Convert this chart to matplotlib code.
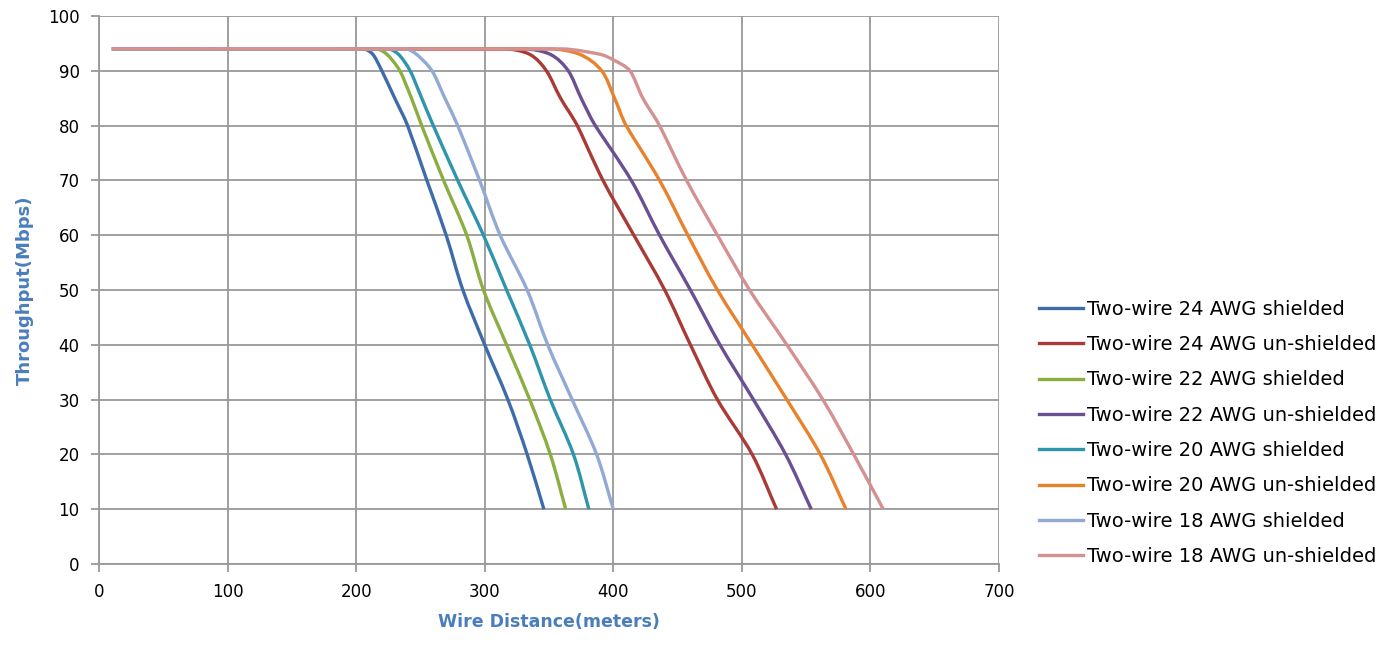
import matplotlib.pyplot as plt
import numpy as np
from matplotlib.path import Path
from matplotlib.patches import PathPatch
from matplotlib.lines import Line2D

# Throughput (Mbps) levels at which the distances are read
y_24s = [94, 94, 93, 90, 85, 80, 70, 60, 50, 40, 30, 20, 10]
x_24s = [10, 205, 213, 220, 230, 240, 255, 270, 283, 300, 318, 333, 346]

y_22s = [94, 94, 93, 90, 85, 80, 70, 60, 50, 40, 30, 20, 10]
x_22s = [10, 215, 224, 234, 243, 251, 268, 286, 299, 317, 335, 351, 363]

y_20s = [94, 94, 93, 90, 85, 80, 70, 60, 50, 40, 30, 20, 10]
x_20s = [10, 224, 233, 242, 251, 260, 279, 299, 317, 335, 351, 369, 381]

y_18s = [94, 94, 93, 90, 85, 80, 70, 60, 50, 40, 30, 20, 10]
x_18s = [10, 238, 247, 259, 269, 279, 296, 312, 333, 349, 368, 387, 400]

y_24u = [94, 94, 93, 90, 85, 80, 70, 60, 50, 40, 30, 20, 10]
x_24u = [10, 315, 335, 348, 359, 372, 392, 416, 440, 460, 481, 508, 527]

y_22u = [94, 94, 93, 90, 85, 80, 70, 60, 50, 40, 30, 20, 10]
x_22u = [10, 330, 351, 365, 375, 386, 414, 436, 460, 483, 509, 534, 554]

y_20u = [94, 94, 93, 90, 85, 80, 70, 60, 50, 40, 30, 20, 10]
x_20u = [10, 350, 374, 391, 401, 410, 436, 458, 481, 508, 535, 561, 581]

y_18u = [94, 94, 93, 92, 90, 85, 80, 70, 60, 50, 40, 30, 20, 10]
x_18u = [10, 360, 390, 400, 413, 423, 436, 457, 481, 506, 535, 563, 587, 610]

series = [
    ("Two-wire 24 AWG shielded", x_24s, y_24s, "#3d6ca9"),
    ("Two-wire 24 AWG un-shielded", x_24u, y_24u, "#aa3a36"),
    ("Two-wire 22 AWG shielded", x_22s, y_22s, "#8aae40"),
    ("Two-wire 22 AWG un-shielded", x_22u, y_22u, "#6b4f93"),
    ("Two-wire 20 AWG shielded", x_20s, y_20s, "#2f95ad"),
    ("Two-wire 20 AWG un-shielded", x_20u, y_20u, "#e8822d"),
    ("Two-wire 18 AWG shielded", x_18s, y_18s, "#90aad5"),
    ("Two-wire 18 AWG un-shielded", x_18u, y_18u, "#d59090"),
]


def smooth_path(xs, ys, sx=900 / 700, sy=548 / 100):
    # smoothed line like Excel: bezier segments through the points,
    # tangents worked out in screen proportions to avoid overshoot
    p = np.column_stack([np.asarray(xs) * sx, np.asarray(ys) * sy]).astype(float)
    n = len(p)
    seglen = [np.hypot(*(p[i + 1] - p[i])) for i in range(n - 1)]
    tang = []
    for i in range(n):
        a = p[i - 1] if i > 0 else p[i]
        b = p[i + 1] if i + 1 < n else p[i]
        d = b - a
        tang.append(d / np.hypot(*d))
    verts = [p[0]]
    codes = [Path.MOVETO]
    for i in range(n - 1):
        h0 = min(seglen[i], seglen[i - 1] if i > 0 else seglen[i]) / 3
        h1 = min(seglen[i], seglen[i + 1] if i + 1 < n - 1 else seglen[i]) / 3
        verts += [p[i] + tang[i] * h0, p[i + 1] - tang[i + 1] * h1, p[i + 1]]
        codes += [Path.CURVE4] * 3
    verts = np.array(verts) / [sx, sy]
    return Path(verts, codes)


fig = plt.figure(figsize=(13.97, 6.46), dpi=100)
ax = fig.add_axes([0.0709, 0.1269, 0.6442, 0.8483])

handles = []
for label, xs, ys, color in series:
    ax.add_patch(PathPatch(smooth_path(xs, ys), fill=False, edgecolor=color,
                           lw=2.4, capstyle="butt", joinstyle="round"))
    handles.append(Line2D([], [], color=color, lw=2.4, label=label))

ax.set_xlim(0, 700)
ax.set_ylim(0, 100)
ax.set_xticks(np.arange(0, 701, 100))
ax.set_yticks(np.arange(0, 101, 10))
ax.grid(True, color="#999999", lw=1.3)
ax.set_axisbelow(True)
for side in ["top", "right"]:
    ax.spines[side].set_visible(False)
for side in ["left", "bottom"]:
    ax.spines[side].set_color("#999999")
    ax.spines[side].set_linewidth(1.3)
ax.tick_params(axis="both", direction="out", length=6, color="#999999", width=1.3,
               labelsize=12, pad=8)

ax.set_xlabel("Wire Distance(meters)", color="#4a7ebb", fontsize=12.5, fontweight="bold", labelpad=8)
ax.set_ylabel("Throughput(Mbps)", color="#4a7ebb", fontsize=13, fontweight="bold", labelpad=10)

fig.legend(handles=handles, loc="upper left", bbox_to_anchor=(0.738, 0.548), frameon=False,
           fontsize=14, handlelength=2.3, handletextpad=0.2, labelspacing=0.84,
           borderaxespad=0)

fig.savefig("out.png", dpi=100)
